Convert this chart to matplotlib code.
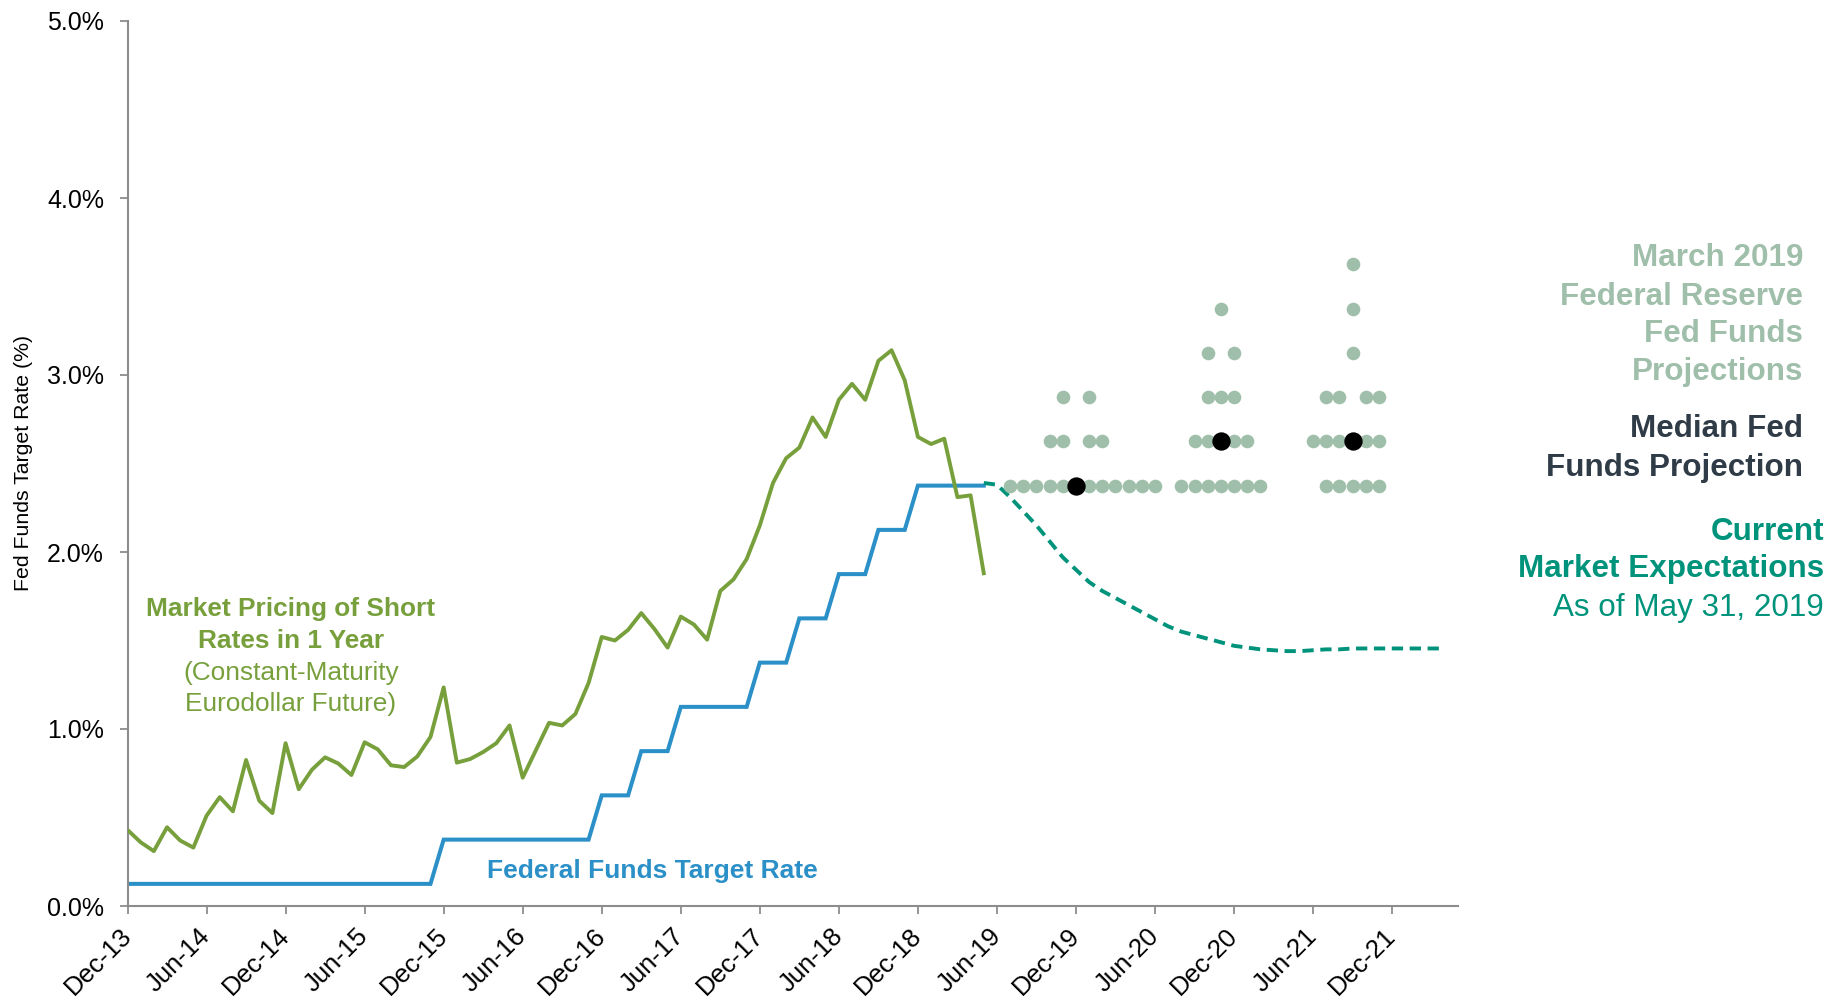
import matplotlib
matplotlib.use("Agg")
import matplotlib.pyplot as plt
import numpy as np

plt.rcParams['font.family'] = ['Liberation Sans', 'DejaVu Sans']

# ---------------- data ----------------
# month index 0 = Dec-13
tick_labels = ["Dec-13", "Jun-14", "Dec-14", "Jun-15", "Dec-15", "Jun-16", "Dec-16",
               "Jun-17", "Dec-17", "Jun-18", "Dec-18", "Jun-19", "Dec-19", "Jun-20",
               "Dec-20", "Jun-21", "Dec-21"]

# Market pricing of short rates in 1 year (Dec-13 .. May-19, monthly)
eurodollar = [0.43, 0.36, 0.31, 0.445, 0.37, 0.33, 0.51, 0.615, 0.535, 0.825, 0.595, 0.525,
              0.92, 0.66, 0.77, 0.84, 0.805, 0.74, 0.925, 0.885, 0.795, 0.785, 0.845, 0.955,
              1.235, 0.81, 0.83, 0.87, 0.92, 1.02, 0.725, 0.88, 1.035, 1.02, 1.085, 1.26,
              1.52, 1.50, 1.56, 1.655, 1.565, 1.46, 1.635, 1.59, 1.505, 1.78, 1.845, 1.96,
              2.15, 2.39, 2.53, 2.59, 2.76, 2.65, 2.86, 2.95, 2.86, 3.08, 3.14, 2.97,
              2.65, 2.61, 2.64, 2.31, 2.32, 1.88]

# Federal funds target rate (midpoint), Dec-13 .. May-19, monthly
fed_funds = [0.125, 0.125, 0.125, 0.125, 0.125, 0.125, 0.125, 0.125, 0.125, 0.125, 0.125, 0.125,
             0.125, 0.125, 0.125, 0.125, 0.125, 0.125, 0.125, 0.125, 0.125, 0.125, 0.125, 0.125,
             0.375, 0.375, 0.375, 0.375, 0.375, 0.375, 0.375, 0.375, 0.375, 0.375, 0.375, 0.375,
             0.625, 0.625, 0.625, 0.875, 0.875, 0.875, 1.125, 1.125, 1.125, 1.125, 1.125, 1.125,
             1.375, 1.375, 1.375, 1.625, 1.625, 1.625, 1.875, 1.875, 1.875, 2.125, 2.125, 2.125,
             2.375, 2.375, 2.375, 2.375, 2.375, 2.375]

# Current market expectations, May-19 .. Apr-22, monthly
market_start = 65
market_exp = [2.39, 2.38, 2.31, 2.23, 2.15, 2.06, 1.97, 1.90, 1.83, 1.78, 1.74, 1.70,
              1.66, 1.62, 1.58, 1.55, 1.53, 1.51, 1.49, 1.47, 1.46, 1.45, 1.445, 1.44,
              1.44, 1.445, 1.45, 1.45, 1.455, 1.455, 1.455, 1.455, 1.455, 1.455, 1.455, 1.455]

# March 2019 FOMC dot plot: cluster centre month, median, and dot slots per level
dot_centers = [72, 83, 93]
dot_medians = [2.375, 2.625, 2.625]
dot_slots = [
    {2.375: [-5, -4, -3, -2, -1, 1, 2, 3, 4, 5, 6], 2.625: [-2, -1, 1, 2], 2.875: [-1, 1]},
    {2.375: [-3, -2, -1, 0, 1, 2, 3], 2.625: [-2, -1, 1, 2], 2.875: [-1, 0, 1],
     3.125: [-1, 1], 3.375: [0]},
    {2.375: [-2, -1, 0, 1, 2], 2.625: [-3, -2, -1, 1, 2], 2.875: [-2, -1, 1, 2],
     3.125: [0], 3.375: [0], 3.625: [0]},
]

# ---------------- styling ----------------
GREEN = '#77a03c'
BLUE = '#2b90c8'
TEAL = '#00937b'
SAGE = '#9fbfaa'
DARK = '#2f3b47'
AXC = '#8c8c8c'

W, H = 1847, 1000
fig = plt.figure(figsize=(W / 100, H / 100), dpi=100)
ax = fig.add_axes([127.5 / W, 1 - 906 / H, (1458 - 127.5) / W, (906 - 21) / H])

x_ed = np.arange(len(eurodollar))
x_ff = np.arange(len(fed_funds))
x_me = market_start + np.arange(len(market_exp))

ax.plot(x_ff, fed_funds, color=BLUE, lw=2.9, solid_joinstyle='miter', zorder=2)
ax.plot(x_ed, eurodollar, color=GREEN, lw=2.8, zorder=3)
ax.plot(x_me, market_exp, color=TEAL, lw=2.8, linestyle=(0, (2.9, 1.7)), zorder=2)

for c, med, slots in zip(dot_centers, dot_medians, dot_slots):
    xs, ys = [], []
    for lvl, offs in slots.items():
        for o in offs:
            xs.append(c + o)
            ys.append(lvl)
    ax.plot(xs, ys, linestyle='none', marker='o', ms=9.8, color=SAGE, mec='none', zorder=4)
    ax.plot([c], [med], linestyle='none', marker='o', ms=13.2, color='black', mec='none', zorder=5)

ax.set_xlim(0, 101)
ax.set_ylim(0, 5)
ax.set_xticks(np.arange(0, 97, 6))
ax.set_xticklabels(tick_labels, rotation=45, ha='right', va='center', rotation_mode='anchor')
yt = np.arange(0, 5.01, 1.0)
ax.set_yticks(yt)
ax.set_yticklabels([f"{v:.1f}%" for v in yt])

for s in ['top', 'right']:
    ax.spines[s].set_visible(False)
for s in ['left', 'bottom']:
    ax.spines[s].set_color(AXC)
    ax.spines[s].set_linewidth(1.5)
ax.tick_params(axis='both', colors=AXC, width=1.3, length=6, labelcolor='black')
ax.tick_params(axis='y', pad=11, labelsize=18)
ax.tick_params(axis='x', pad=13, labelsize=18.6)

fig.text(24 / W, 1 - 463 / H, "Fed Funds Target Rate (%)", rotation=90, ha='center',
         va='center', fontsize=15.3, color='black')

# left annotations
def ftxt(x, y, s, **kw):
    fig.text(x / W, 1 - y / H, s, va='baseline', **kw)

ftxt(291, 616, "Market Pricing of Short", ha='center', fontsize=18.9, fontweight='bold', color=GREEN)
ftxt(291, 648, "Rates in 1 Year", ha='center', fontsize=18.9, fontweight='bold', color=GREEN)
ftxt(291, 680, "(Constant-Maturity", ha='center', fontsize=18.9, color=GREEN)
ftxt(291, 711, "Eurodollar Future)", ha='center', fontsize=18.9, color=GREEN)

ftxt(652, 878, "Federal Funds Target Rate", ha='center', fontsize=19, fontweight='bold', color=BLUE)

# right annotations
for y, s in zip([266, 305, 342, 380], ["March 2019", "Federal Reserve", "Fed Funds", "Projections"]):
    ftxt(1803, y, s, ha='right', fontsize=22.6, fontweight='bold', color=SAGE)
for y, s in zip([437, 476], ["Median Fed", "Funds Projection"]):
    ftxt(1803, y, s, ha='right', fontsize=22.6, fontweight='bold', color=DARK)
ftxt(1824, 540, "Current", ha='right', fontsize=22.6, fontweight='bold', color=TEAL)
ftxt(1824, 577, "Market Expectations", ha='right', fontsize=22.6, fontweight='bold', color=TEAL)
ftxt(1824, 616, "As of May 31, 2019", ha='right', fontsize=22.6, color=TEAL)

fig.savefig("out.png", dpi=100)
